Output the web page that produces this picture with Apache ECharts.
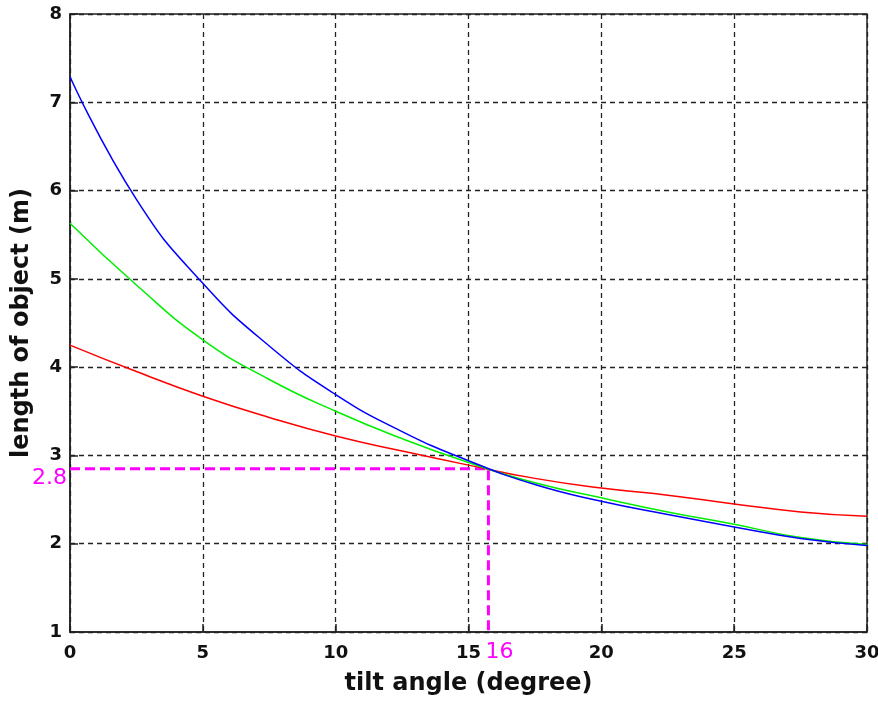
<!DOCTYPE html>
<html>
<head>
<meta charset="utf-8">
<script src="https://cdn.jsdelivr.net/npm/echarts@6/dist/echarts.min.js"></script>
<style>
  html, body { margin: 0; padding: 0; background: #fff; }
  #main { width: 878px; height: 705px; }
</style>
</head>
<body>
<div id="main"></div>
<script>
// tilt angle (degree)
var angles = [0, 2.5, 5, 7.5, 10, 12.5, 15, 17.5, 20, 22.5, 25, 27.5, 30];
// length of object (m)
var blueLen  = [7.29, 5.90, 4.95, 4.24, 3.69, 3.27, 2.94, 2.67, 2.48, 2.33, 2.19, 2.06, 1.98];
var greenLen = [5.63, 4.93, 4.31, 3.86, 3.50, 3.19, 2.92, 2.69, 2.52, 2.36, 2.22, 2.07, 1.99];
var redLen   = [4.25, 3.95, 3.67, 3.43, 3.22, 3.05, 2.89, 2.74, 2.63, 2.55, 2.45, 2.36, 2.31];
// crossing point marked with magenta guide lines
var cross = [15.75, 2.85];
var crossLabels = ['2.8', '16'];

function pairs(xs, ys) {
  return xs.map(function (x, i) { return [x, ys[i]]; });
}

var myChart = echarts.init(document.getElementById('main'));

var gridLine = { show: true, lineStyle: { color: '#222', width: 1.3, type: [5, 4] } };
var tickFont = { fontFamily: 'DejaVu Sans', fontWeight: 'bold', fontSize: 18, color: '#111' };
var nameFont = { fontFamily: 'DejaVu Sans', fontWeight: 'bold', fontSize: 24, color: '#111' };

var option = {
  animation: false,
  grid: {
    left: 70, right: 11, top: 14, bottom: 73,
    outerBoundsMode: 'none', containLabel: false,
    show: true, borderColor: '#222', borderWidth: 1.5, backgroundColor: '#fff'
  },
  xAxis: {
    type: 'value', min: 0, max: 30, interval: 5,
    name: 'tilt angle (degree)', nameLocation: 'middle', nameGap: 40,
    nameTextStyle: nameFont,
    axisLine: { lineStyle: { color: '#222', width: 1.5 } },
    axisTick: { inside: true, length: 8, lineStyle: { color: '#222', width: 1.5 } },
    axisLabel: Object.assign({ margin: 12 }, tickFont),
    splitLine: gridLine
  },
  yAxis: {
    type: 'value', min: 1, max: 8, interval: 1,
    name: 'length of object (m)', nameLocation: 'middle', nameGap: 36,
    nameTextStyle: nameFont,
    axisLine: { lineStyle: { color: '#222', width: 1.5 } },
    axisTick: { inside: true, length: 8, lineStyle: { color: '#222', width: 1.5 } },
    axisLabel: Object.assign({ margin: 8 }, tickFont),
    splitLine: gridLine
  },
  series: [
    {
      type: 'line', name: 'guide', z: 1,
      symbol: 'circle', symbolSize: 0, showSymbol: true,
      lineStyle: { color: '#ff00ff', width: 3, type: [10, 5] },
      itemStyle: { color: '#ff00ff' },
      data: [
        { value: [0, cross[1]], label: { show: true, position: 'left', distance: 3, offset: [0, 10], formatter: crossLabels[0], color: '#ff00ff', fontFamily: 'DejaVu Sans', fontSize: 22 } },
        { value: [cross[0], cross[1]] },
        { value: [cross[0], 1], label: { show: true, position: 'bottom', distance: 9, offset: [11, 0], formatter: crossLabels[1], color: '#ff00ff', fontFamily: 'DejaVu Sans', fontSize: 22 } }
      ]
    },
    { type: 'line', name: 'red', smooth: true, showSymbol: false, z: 3, lineStyle: { color: '#ff0000', width: 1.5 }, data: pairs(angles, redLen) },
    { type: 'line', name: 'green', smooth: true, showSymbol: false, z: 3, lineStyle: { color: '#00ee00', width: 1.5 }, data: pairs(angles, greenLen) },
    { type: 'line', name: 'blue', smooth: true, showSymbol: false, z: 3, lineStyle: { color: '#0000ff', width: 1.5 }, data: pairs(angles, blueLen) }
  ]
};

myChart.setOption(option);
</script>
</body>
</html>
